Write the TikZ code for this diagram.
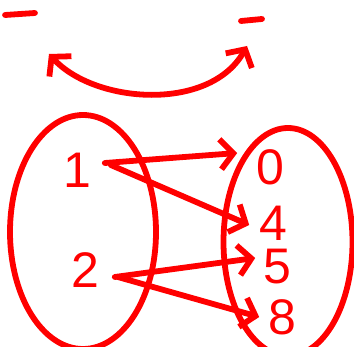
\documentclass[tikz,border=0pt]{standalone}
\usepackage{fontspec}
\setmainfont{Liberation Sans}
\usepackage{tikz}
\usetikzlibrary{arrows.meta,shapes.geometric}

\begin{document}
\begin{tikzpicture}[x=1pt, y=-1pt, red, line width=5.8pt, line cap=round, line join=round,
  every node/.style={font=\fontsize{50}{50}\selectfont},
  digit/.style={text=red, inner sep=2pt},
  set/.style={draw, ellipse, inner sep=0pt},
  barb/.style={-{Straight Barb[length=13pt,width=30pt]}}]
\useasboundingbox (0,0) rectangle (354,347);
% the two sets
\node[set, minimum width=146pt, minimum height=234pt] (dom) at (83,232) {};
\node[set, minimum width=129pt, minimum height=228pt] (cod) at (288,242) {};
% elements
\node[digit] (n1) at (77,170) {1};
\node[digit] (n2) at (85,270) {2};
\node[digit] (n0) at (270,167) {0};
\node[digit] (n4) at (273,223) {4};
\node[digit] (n5) at (277,267) {5};
\node[digit] (n8) at (282,317) {8};
\draw[barb] ([xshift=9pt, yshift=7pt]n1.east) -- ([xshift=-14pt, yshift=14pt]n0.west);
\draw[barb] ([xshift=15pt, yshift=5pt]n1.east) -- ([xshift=-5pt, yshift=-2pt]n4.west);
\draw[barb] ([xshift=11pt, yshift=-7pt]n2.east) -- ([xshift=-3pt, yshift=9pt]n5.west);
\draw[barb] ([xshift=14pt, yshift=-7pt]n2.east) -- ([xshift=-4pt]n8.west);
% marks at the top
\draw (5,15) -- (35,13);
\draw (241,21) -- (262,19);
\coordinate (lefttip) at (49,54);
\coordinate (righttip) at (247,46);
\draw[{Straight Barb[length=13pt,width=30pt]}-{Straight Barb[length=13pt,width=30pt]}]
  (lefttip) .. controls (95,104) and (210,112) .. (righttip);
\end{tikzpicture}
\end{document}
